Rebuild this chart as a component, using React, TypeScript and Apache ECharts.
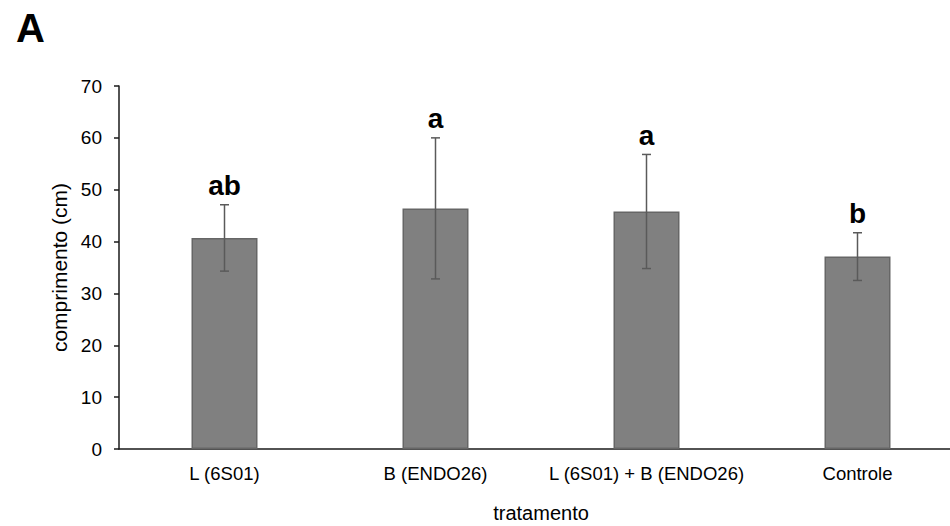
import React, { useEffect, useRef } from "react";
import * as echarts from "echarts";

const categories = ["L (6S01)", "B (ENDO26)", "L (6S01) + B (ENDO26)", "Controle"];
const means = [40.7, 46.4, 45.8, 37.1];
const sds = [6.4, 13.6, 11.0, 4.6];
const letters = ["ab", "a", "a", "b"];
const yTicks = { min: 0, max: 70, interval: 10 };

const FONT = 'Arial, "Liberation Sans", sans-serif';

export default function App() {
  const ref = useRef<HTMLDivElement>(null);
  useEffect(() => {
    if (!ref.current) return;
    const chart = echarts.init(ref.current, null, { renderer: "svg" });
    const errData = means.map((m, i) => [i, m - sds[i], m + sds[i]]);
    chart.setOption({
      animation: false,
      backgroundColor: "#ffffff",
      textStyle: { fontFamily: FONT },
      title: {
        text: "A",
        left: 11,
        top: 3,
        textStyle: { fontFamily: FONT, fontSize: 40, fontWeight: "bold", color: "#000" },
      },
      grid: {
        left: 119,
        right: -13,
        top: 86,
        bottom: 77,
        containLabel: false,
        outerBoundsMode: "none",
      },
      xAxis: {
        type: "category",
        data: categories,
        axisLine: { show: true, lineStyle: { color: "#1a1a1a", width: 1.5 } },
        axisTick: { show: false },
        axisLabel: { color: "#000", fontSize: 18.5, fontFamily: FONT, margin: 15, interval: 0 },
        name: "tratamento",
        nameLocation: "middle",
        nameGap: 54,
        nameTextStyle: { color: "#000", fontSize: 20, fontFamily: FONT, lineHeight: 20 },
      },
      yAxis: {
        type: "value",
        min: yTicks.min,
        max: yTicks.max,
        interval: yTicks.interval,
        axisLine: { show: true, lineStyle: { color: "#1a1a1a", width: 1.5 } },
        axisTick: { show: true, inside: false, length: 5, lineStyle: { color: "#1a1a1a", width: 1.5 } },
        splitLine: { show: false },
        axisLabel: { color: "#000", fontSize: 19, fontFamily: FONT, margin: 17 },
        name: "comprimento (cm)",
        nameLocation: "middle",
        nameGap: 45,
        nameRotate: 90,
        nameTextStyle: { color: "#000", fontSize: 21, fontFamily: FONT },
      },
      series: [
        {
          type: "bar",
          data: means,
          barWidth: 66,
          itemStyle: { color: "#808080", borderColor: "#666666", borderWidth: 1.5 },
          z: 2,
        },
        {
          type: "custom",
          data: errData,
          z: 3,
          renderItem: (params: any, api: any) => {
            const idx = api.value(0);
            const lo = api.coord([idx, api.value(1)]);
            const hi = api.coord([idx, api.value(2)]);
            const cap = 4.5;
            const style = { stroke: "#5a5a5a", lineWidth: 1.5 };
            return {
              type: "group",
              children: [
                { type: "line", shape: { x1: hi[0], y1: hi[1], x2: lo[0], y2: lo[1] }, style },
                { type: "line", shape: { x1: hi[0] - cap, y1: hi[1], x2: hi[0] + cap, y2: hi[1] }, style },
                { type: "line", shape: { x1: lo[0] - cap, y1: lo[1], x2: lo[0] + cap, y2: lo[1] }, style },
                {
                  type: "text",
                  x: hi[0],
                  y: hi[1] - 5,
                  style: {
                    text: letters[params.dataIndex],
                    fill: "#000",
                    font: `bold 28px ${FONT}`,
                    align: "center",
                    verticalAlign: "bottom",
                  },
                },
              ],
            };
          },
        },
      ],
    });
    return () => chart.dispose();
  }, []);
  return (
    <div
      ref={ref}
      style={{ position: "fixed", left: 0, top: 0, width: 950, height: 526 }}
    />
  );
}
